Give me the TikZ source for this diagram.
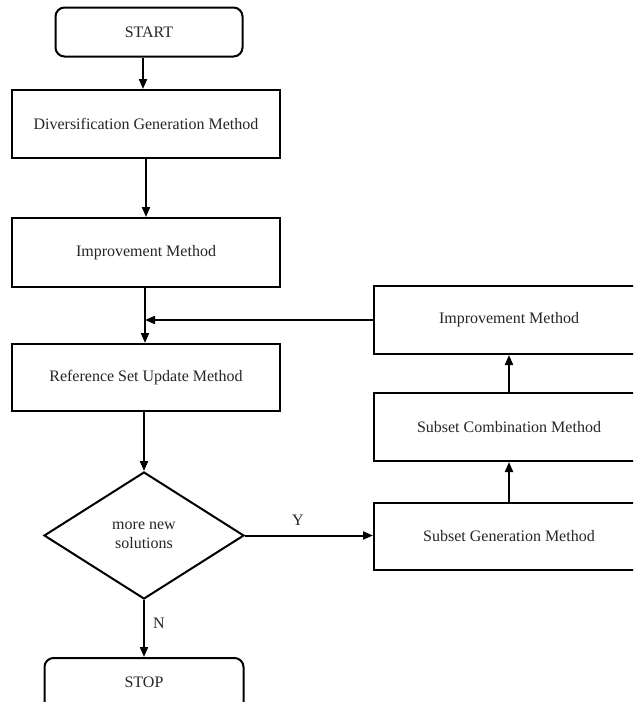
\documentclass[tikz,border=0pt]{standalone}
\usepackage{fontspec}
\setmainfont{Liberation Serif}
\usetikzlibrary{arrows.meta,shapes.geometric}
\tikzset{
  box/.style={draw, line width=2pt, rectangle, inner sep=0pt, font=\fontsize{16}{19}\selectfont, text=black!85},
  term/.style={box, rounded corners=9pt},
  dec/.style={draw, line width=2pt, diamond, inner sep=0pt, align=center, font=\fontsize{16}{19}\selectfont, text=black!85},
  arr/.style={line width=2pt, -{Triangle[length=10pt,width=8pt]}},
  lbl/.style={font=\fontsize{16}{19}\selectfont, text=black!85}
}
\begin{document}
\begin{tikzpicture}[x=1pt,y=-1pt]
\path[use as bounding box, clip] (0,0) rectangle (633,702);
\fill[white] (0,0) rectangle (633,702);
\node[term, minimum width=187pt, minimum height=49pt] (start) at (149,32) {START};
\node[box, minimum width=268pt, minimum height=68pt] (div) at (146,124) {Diversification Generation Method};
\node[box, minimum width=268pt, minimum height=69pt] (imp) at (146,252.5) {Improvement Method};
\node[box, minimum width=268pt, minimum height=67pt] (ref) at (146,377.5) {Reference Set Update Method};
\node[dec, minimum width=200pt, minimum height=127pt] (dia) at (144,535.5) {more new\\solutions};
\node[term, minimum width=199pt, minimum height=60pt] (stop) at (144,688) {};
\node[lbl] (stoptxt) at (144,682) {STOP};
\node[box, minimum width=270pt, minimum height=68pt] (imp2) at (509,320) {Improvement Method};
\node[box, minimum width=270pt, minimum height=68pt] (comb) at (509,427) {Subset Combination Method};
\node[box, minimum width=270pt, minimum height=67pt] (gen) at (509,536.5) {Subset Generation Method};
\coordinate (join) at (145,320);
\draw[arr] (start.south -| 143,0) -- (div.north -| 143,0);
\draw[arr] (div.south -| 146,0) -- (imp.north -| 146,0);
\draw[arr] (imp.south -| 145,0) -- (ref.north -| 145,0);
\draw[arr] (imp2.west) -- (join);
\draw[arr] (ref.south -| 144,0) -- (dia.north);
\draw[arr] (dia.south) -- (stop.north -| dia.south);
\draw[arr] (dia.east) -- (gen.west |- dia.east);
\draw[arr] (gen.north) -- (comb.south);
\draw[arr] (comb.north) -- (imp2.south);
\node[lbl] (ylbl) at (298,520) {Y};
\node[lbl] (nlbl) at (159,623) {N};
\end{tikzpicture}
\end{document}
